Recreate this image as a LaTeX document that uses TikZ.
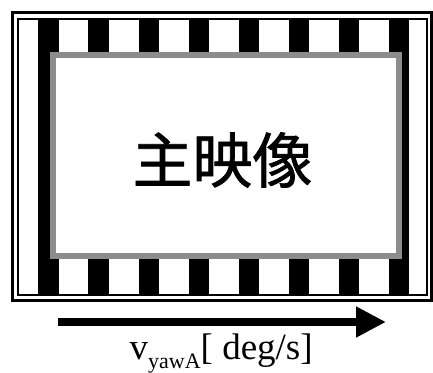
\documentclass[tikz,border=0pt]{standalone}
\usepackage{fontspec}
\setmainfont{Liberation Serif}
\newfontfamily\cjk{Noto Sans CJK JP}[FakeBold=1.2]
\usetikzlibrary{arrows.meta}
\definecolor{framegray}{RGB}{140,140,140}
\tikzset{
  stripe/.style={fill=black, draw=none},
  frameline/.style={draw=black},
  mainbox/.style={draw=framegray, fill=white, line width=6pt},
  bigarrow/.style={line width=8pt, -{Triangle[length=30pt,width=29pt]}},
}
\begin{document}
\begin{tikzpicture}[x=1pt,y=-1pt]
\useasboundingbox[fill=white] (0,0) rectangle (433,372);
% stripes
\foreach \i in {0,...,7}{
  \fill[stripe] ({38.3+50.1*\i},18.5) rectangle ({58.6+50.1*\i},294);
}
% frame lines
\draw[frameline, line width=3pt] (12.5,12) rectangle (431.5,300.5);
\draw[frameline, line width=2pt] (17.5,18.5) rectangle (427,294.5);
% main box
\draw[mainbox] (53,55) rectangle (399,256);
\node[inner sep=0pt] (main) at (222.5,160) {\cjk\fontsize{60}{60}\selectfont 主映像};
% arrow
\coordinate (a0) at (58,322);
\coordinate (a1) at (386,322);
\draw[bigarrow] (a0) -- (a1);
\node[inner sep=0pt, anchor=base west] (lab) at (129.5,359)
  {\fontsize{37}{37}\selectfont v\raisebox{-9pt}{\fontsize{22}{22}\selectfont yawA}[ deg/s]};
\end{tikzpicture}
\end{document}
